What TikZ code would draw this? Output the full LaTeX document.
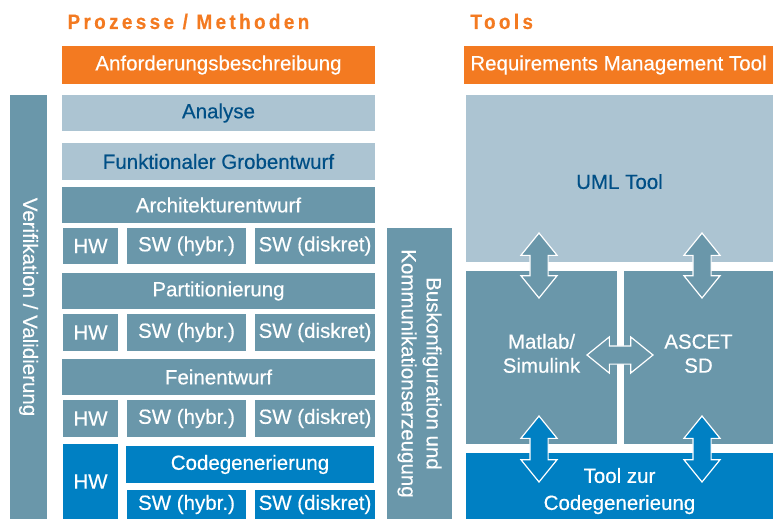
\documentclass[tikz,border=0pt]{standalone}
\usepackage{fontspec}
\setmainfont{Liberation Sans}[FakeBold=0.4]
\usepackage{tikz}
\usetikzlibrary{shapes.arrows, positioning}
\definecolor{orangeA}{RGB}{243,122,33}
\definecolor{lightsteel}{RGB}{172,196,210}
\definecolor{steel}{RGB}{106,151,170}
\definecolor{blueA}{RGB}{0,128,195}
\definecolor{darkblue}{RGB}{0,79,134}

\begin{document}
\begin{tikzpicture}[x=1pt, y=-1pt,% styles used in image code
 box/.style = {rectangle, inner sep=0pt, outer sep=0pt,
               anchor=north west, align=center, text=white,
               font=\fontsize{20.5}{24}\selectfont},
 obox/.style = {box, fill=orangeA},
 lbox/.style = {box, fill=lightsteel, text=darkblue},
 sbox/.style = {box, fill=steel},
 bbox/.style = {box, fill=blueA},
 head/.style = {anchor=base west, text=orangeA,
                font=\fontsize{21}{24}\bfseries\addfontfeature{FakeStretch=0.9,LetterSpace=16}},
 dbl/.style = {shape=double arrow, draw=white, line width=1.2pt,
               inner xsep=0pt, inner ysep=8.5pt, minimum height=#1,
               double arrow head extend=9pt,
               double arrow tip angle=78}
                        ]
	\useasboundingbox (0,0) rectangle (773,519);

	% headings
	\node[head] (hproc) at (64,29) {Prozesse / Methoden};
	\node[head] (htool) at (467,29) {Tools};

	% process column
	\node[obox, minimum width=313, minimum height=38] (req) at (62,46) {Anforderungsbeschreibung};
	\node[lbox, minimum width=313, minimum height=36] (ana) at (62,95) {Analyse};
	\node[lbox, minimum width=313, minimum height=37] (grob) at (62,143) {Funktionaler Grobentwurf};

	\node[sbox, minimum width=313, minimum height=36] (arch) at (62,187) {Architekturentwurf};
	\node[sbox, minimum width=55, minimum height=36] (hwa) at (63,228) {HW};
	\node[sbox, minimum width=119, minimum height=36] (swha) at (127,228) {SW (hybr.)};
	\node[sbox, minimum width=120, minimum height=36] (swda) at (255,228) {SW (diskret)};

	\node[sbox, minimum width=313, minimum height=36] (part) at (62,273) {Partitionierung};
	\node[sbox, minimum width=55, minimum height=37] (hwb) at (63,314) {HW};
	\node[sbox, minimum width=119, minimum height=37] (swhb) at (127,314) {SW (hybr.)};
	\node[sbox, minimum width=120, minimum height=37] (swdb) at (255,314) {SW (diskret)};

	\node[sbox, minimum width=313, minimum height=36] (fein) at (62,359) {Feinentwurf};
	\node[sbox, minimum width=55, minimum height=37] (hwc) at (63,400) {HW};
	\node[sbox, minimum width=119, minimum height=37] (swhc) at (127,400) {SW (hybr.)};
	\node[sbox, minimum width=120, minimum height=37] (swdc) at (255,400) {SW (diskret)};

	\node[bbox, minimum width=55, minimum height=75] (hwd) at (63,444) {HW};
	\node[bbox, minimum width=248, minimum height=37] (code) at (126,446) {Codegenerierung};
	\node[bbox, minimum width=119, minimum height=29] (swhd) at (127,490) {SW (hybr.)};
	\node[bbox, minimum width=120, minimum height=29] (swdd) at (255,490) {SW (diskret)};

	% side bars
	\node[sbox, anchor=center, rotate=-90, minimum width=424, minimum height=37]
		(verif) at (28.5,307) {Verifikation / Validierung};
	\node[sbox, anchor=center, rotate=-90, minimum width=291, minimum height=65,
		font=\fontsize{20.5}{25}\selectfont]
		(bus) at (419.5,373.5) {Buskonfiguration und\\Kommunikationserzeugung};

	% tool column
	\node[obox, minimum width=309, minimum height=38] (rmt) at (464,46) {Requirements Management Tool};
	\node[lbox, minimum width=307, minimum height=167, text height=21pt] (uml) at (466,95) {UML Tool};
	\node[sbox, minimum width=151, minimum height=173, text depth=8.5pt] (mat) at (466,271) {Matlab/\\Simulink};
	\node[sbox, minimum width=149, minimum height=173, text depth=8pt] (asc) at (624,271) {ASCET\\SD};
	\node[bbox, minimum width=307, minimum height=66, text height=52pt,
		font=\fontsize{20.5}{27}\selectfont] (tcg) at (466,453) {Tool zur\\Codegenerieung};

	% exchange arrows
	\node[dbl=65, fill=steel, rotate=90] (a1) at (539,265.5) {};
	\node[dbl=65, fill=steel, rotate=90] (a2) at (702,265.5) {};
	\node[dbl=66, fill=blueA, rotate=90] (a3) at (539,449) {};
	\node[dbl=66, fill=blueA, rotate=90] (a4) at (702,449) {};
	\node[dbl=66, fill=steel] (a5) at (620,355) {};
\end{tikzpicture}
\end{document}
